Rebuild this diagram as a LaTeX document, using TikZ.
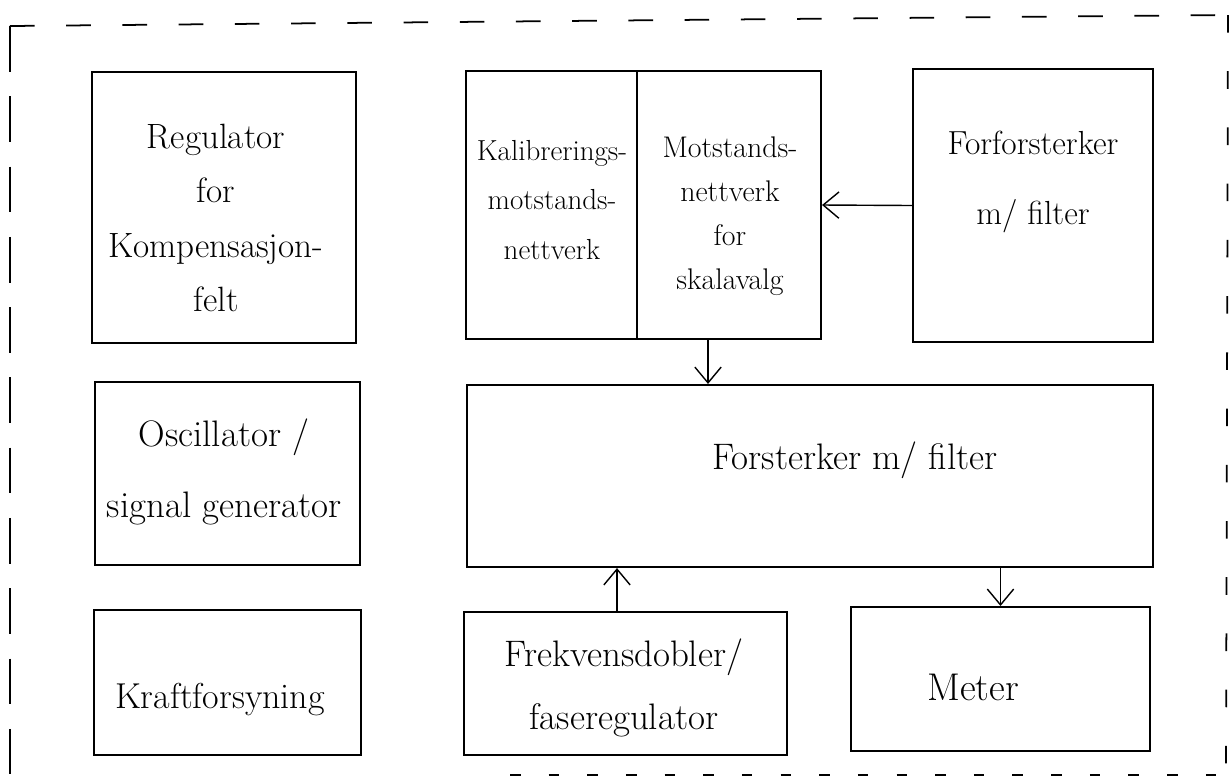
\documentclass[tikz,border=0pt]{standalone}
\usetikzlibrary{arrows.meta,fit,calc}
\begin{document}
\begin{tikzpicture}[x=0.02cm,y=-0.02cm,
  blk/.style={draw=black,line width=1.2pt,inner sep=0pt,rectangle},
  lbl/.style={align=center,inner sep=0pt,text=black},
  big/.style={font=\fontsize{21}{31}\selectfont},
  mid/.style={font=\fontsize{19}{36}\selectfont},
  arr/.style={draw=black,line width=0.8pt,-{Straight Barb[length=9pt,width=15pt,line width=0.8pt]}},
  frame/.style={draw=black,line width=1pt,dash pattern=on 14pt off 18pt}]
\useasboundingbox (0,0) rectangle (1232,779);

% dashed outer enclosure
\coordinate (tl) at (10,26);
\coordinate (tr) at (1228,15);
\coordinate (bl) at (10,779);
\coordinate (br) at (1226,779);
\coordinate (bm) at (510,775);
\coordinate (be) at (1226,775);
\draw[frame] (tl) -- (tr);
\draw[frame,dash pattern=on 26pt off 14pt] (tl) -- (bl);
\draw[frame,dash pattern=on 10pt off 22pt] (tr) -- (br);
\draw[frame,dash pattern=on 6pt off 16pt] (bm) -- (be);

% blocks
\node[blk,fit={(92,72) (356,343)}] (reg) {};
\node[blk,fit={(466,71) (637,339)}] (kal) {};
\node[blk,fit={(637,71) (821,339)}] (mot) {};
\node[blk,fit={(913,69) (1153,342)}] (ff) {};
\node[blk,fit={(95,382) (360,565)}] (osc) {};
\node[blk,fit={(467,385) (1153,567)}] (fors) {};
\node[blk,fit={(94,610) (361,755)}] (kraft) {};
\node[blk,fit={(464,612) (787,755)}] (frek) {};
\node[blk,fit={(851,607) (1150,751)}] (meter) {};

% block texts
\node[lbl,font=\fontsize{20}{31}\selectfont] (regt) at (216,218)
  {Regulator\\for\\Kompensasjon-\\felt};
\node[lbl,font=\fontsize{16.5}{28}\selectfont] (kalt) at (552,200)
  {Kalibrerings-\\motstands-\\nettverk};
\node[lbl,font=\fontsize{17}{25}\selectfont] (mott) at (730,216)
  {Motstands-\\nettverk\\for\\skalavalg};
\node[lbl,font=\fontsize{19}{40}\selectfont] (fft) at (1033,182)
  {Forforsterker\\m/ filter};
\node[lbl,font=\fontsize{21}{40}\selectfont] (osct) at (224,472)
  {Oscillator /\\signal generator};
\node[lbl,big] (forst) at (855,460) {Forsterker m/ filter};
\node[lbl,font=\fontsize{20.5}{31}\selectfont] (kraftt) at (220,700) {Kraftforsyning};
\node[lbl,font=\fontsize{21}{36}\selectfont] (frekt) at (624,688)
  {Frekvensdobler/\\faseregulator};
\node[lbl,font=\fontsize{22}{31}\selectfont] (metert) at (973,687) {Meter};

% signal paths
\draw[arr] (ff.west) -- (mot.east);
\draw[arr] ([xshift=-0.42cm]mot.south) -- ([xshift=-0.42cm]mot.south |- fors.north);
\draw[arr] ([xshift=-0.17cm]frek.north) -- ([xshift=-0.17cm]frek.north |- fors.south);
\draw[arr] (meter.north |- fors.south) -- (meter.north);
\end{tikzpicture}
\end{document}
